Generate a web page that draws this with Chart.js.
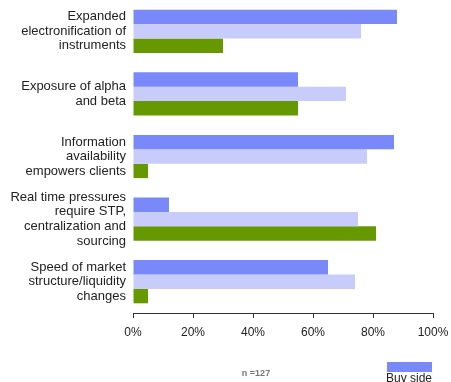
<!DOCTYPE html>
<html>
<head>
<meta charset="utf-8">
<script src="https://cdn.jsdelivr.net/npm/chart.js@4/dist/chart.umd.min.js"></script>
<style>
    html, body { margin: 0; padding: 0; background: #fff; }
    #wrap { width: 451px; height: 382px; position: relative; }
</style>
</head>
<body>
<div id="wrap"><canvas id="barChart_Drivers"></canvas></div>
<script>
// categories, one array of lines per label
var categories = [
    ['Expanded', 'electronification of', 'instruments'],
    ['Exposure of alpha', 'and beta'],
    ['Information', 'availability', 'empowers clients'],
    ['Real time pressures', 'require STP,', 'centralization and', 'sourcing'],
    ['Speed of market', 'structure/liquidity', 'changes']
];
var seriesNames = ['Buy side', 'Sell side', 'Vendors'];
var buySide = [88, 55, 87, 12, 65];
var sellSide = [76, 71, 78, 75, 74];
var vendors = [30, 55, 5, 81, 5];
var tickValues = [0, 20, 40, 60, 80, 100];
var sampleNote = 'n =127';

var colors = ['#7989fa', '#c8ccfa', '#669900'];

// legend under the plot: swatch on top, name centred below it
var legendBelow = {
    id: 'legendBelow',
    afterDraw: function (chart) {
        var ctx = chart.ctx;
        ctx.save();
        ctx.font = 'bold 9px "Liberation Sans", Arial, sans-serif';
        ctx.fillStyle = '#777';
        ctx.textAlign = 'center';
        ctx.textBaseline = 'middle';
        ctx.fillText(sampleNote, 256, 374);

        chart.data.datasets.forEach(function (ds, i) {
            var y = 362 + i * 26;
            ctx.fillStyle = ds.backgroundColor;
            ctx.fillRect(387, y, 45, 10);
            ctx.fillStyle = '#222';
            ctx.font = '12px "Liberation Sans", Arial, sans-serif';
            ctx.textBaseline = 'top';
            ctx.fillText(ds.label, 409, y + 11);
        });
        ctx.restore();
    }
};

var ctx = document.getElementById('barChart_Drivers').getContext('2d');
new Chart(ctx, {
    type: 'bar',
    data: {
        labels: categories,
        datasets: [
            {label: seriesNames[0], data: buySide, backgroundColor: colors[0]},
            {label: seriesNames[1], data: sellSide, backgroundColor: colors[1]},
            {label: seriesNames[2], data: vendors, backgroundColor: colors[2]}
        ]
    },
    options: {
        indexAxis: 'y',
        responsive: true,
        maintainAspectRatio: false,
        animation: false,
        layout: {padding: 0},
        datasets: {
            bar: {categoryPercentage: 0.69, barPercentage: 1.0, borderWidth: 0}
        },
        plugins: {
            legend: {display: false},
            tooltip: {enabled: false}
        },
        scales: {
            x: {
                min: 0,
                max: 100,
                afterBuildTicks: function (scale) {
                    scale.ticks = tickValues.map(function (v) { return {value: v}; });
                },
                afterFit: function (scale) {
                    scale.height = 69;
                    scale.paddingLeft = 0;
                    scale.paddingRight = 18;
                },
                grid: {
                    drawOnChartArea: false,
                    drawTicks: true,
                    tickLength: 5,
                    color: '#333'
                },
                border: {display: true, color: '#333', width: 1},
                ticks: {
                    padding: 7,
                    color: '#222',
                    font: {family: '"Liberation Sans", Arial, sans-serif', size: 12},
                    callback: function (v) { return v + '%'; }
                }
            },
            y: {
                afterFit: function (scale) {
                    scale.width = 133;
                    scale.paddingTop = 0;
                    scale.paddingBottom = 0;
                },
                grid: {display: false, drawTicks: false},
                border: {display: false},
                ticks: {
                    autoSkip: false,
                    padding: 7,
                    color: '#222',
                    font: {family: '"Liberation Sans", Arial, sans-serif', size: 13, lineHeight: 1.12}
                }
            }
        }
    },
    plugins: [legendBelow]
});
</script>
</body>
</html>
